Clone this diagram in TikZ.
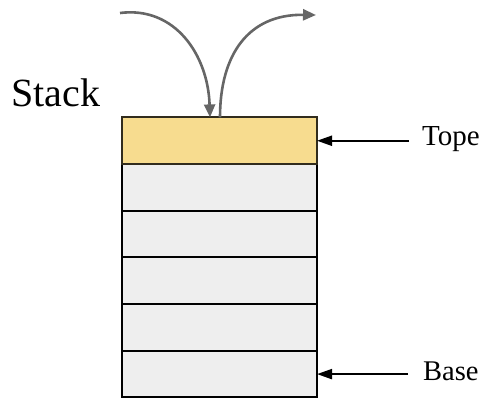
\documentclass[tikz,border=0pt]{standalone}
\usepackage{fontspec}
\setmainfont{Liberation Serif}
\usetikzlibrary{arrows.meta}
\definecolor{topfill}{HTML}{F7DC8F}
\definecolor{cellfill}{HTML}{EEEEEE}
\definecolor{curvegray}{HTML}{666666}
\begin{document}
\begin{tikzpicture}[x=1pt,y=-1pt,
  cell/.style={draw=black,line width=2pt,fill=cellfill,minimum width=195pt,minimum height=46.67pt,inner sep=0pt,outer sep=0pt},
  topcell/.style={cell,fill=topfill,draw={black!80!topfill}},
  lbl/.style={inner sep=0pt,anchor=base west},
  ptr/.style={line width=2pt,-{Triangle[length=15pt,width=10pt]}},
  flow/.style={draw=curvegray,line width=2.6pt,-{Triangle[length=13pt,width=11pt]},curvegray}]
\useasboundingbox (0,0) rectangle (485,401);
\node[cell] (s2) at (219.5,187.4) {};
\node[cell] (s3) at (219.5,234.1) {};
\node[cell] (s4) at (219.5,280.8) {};
\node[cell] (s5) at (219.5,327.4) {};
\node[cell] (s6) at (219.5,374.1) {};
\node[topcell] (s1) at (219.5,140.75) {};
\node[lbl] (stack) at (11,107) {\fontsize{40}{44}\selectfont Stack};
\node[lbl] (tope) at (422,146) {\fontsize{29}{32}\selectfont Tope};
\node[lbl] (base) at (423,380) {\fontsize{28.5}{32}\selectfont Base};
\draw[ptr] ([xshift=-13pt]tope.west |- s1.east) -- (s1.east);
\draw[ptr] ([xshift=-15pt]base.west |- s6.east) -- (s6.east);
\coordinate (src) at (120,13);
\coordinate (dst) at (316,15);
\draw[flow] (src) .. controls (175,6) and (208,55) .. ([xshift=-9.5pt]s1.north);
\draw[flow] ([xshift=0.5pt]s1.north) .. controls (220,55) and (248,14) .. (dst);
\end{tikzpicture}
\end{document}
